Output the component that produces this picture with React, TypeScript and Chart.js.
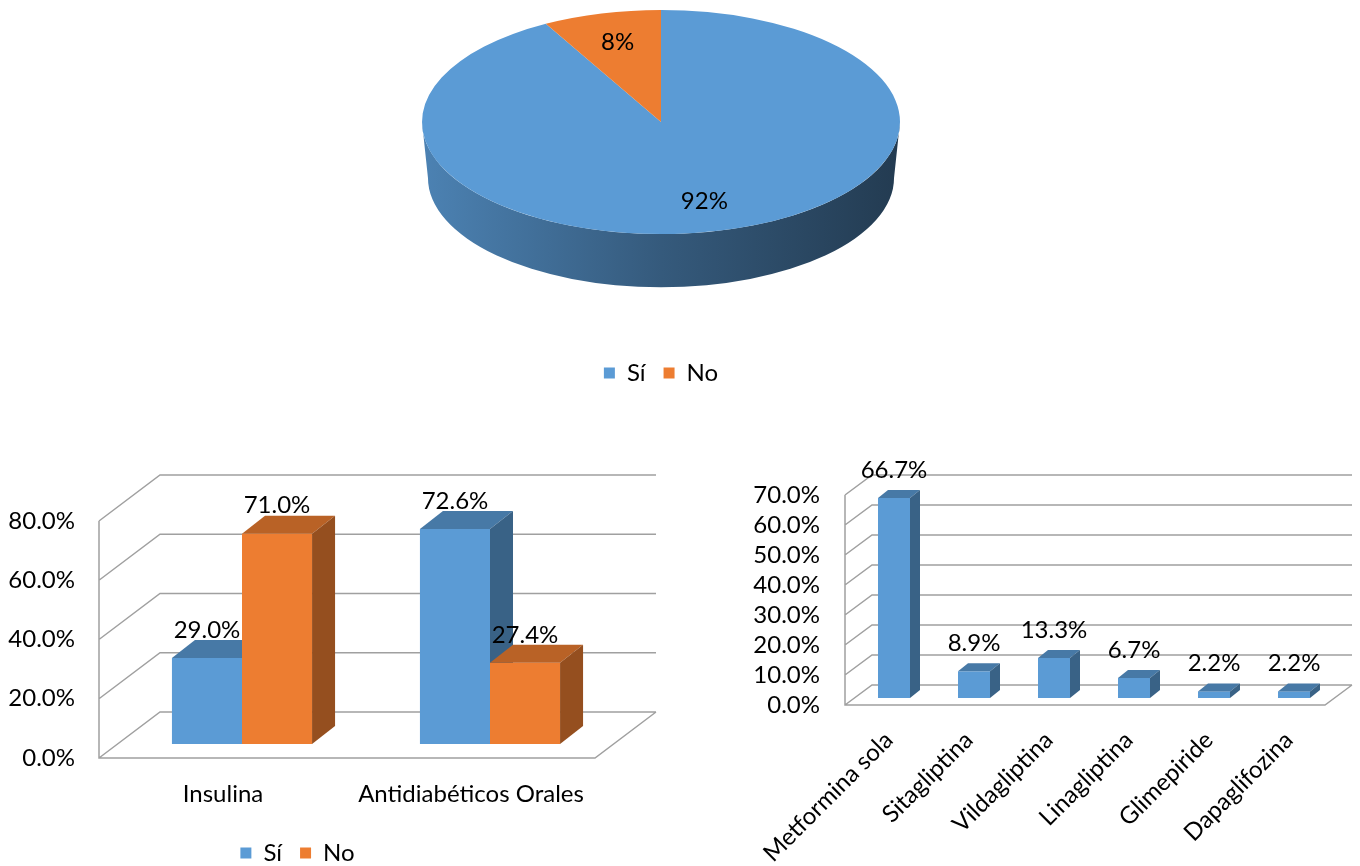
import React, { useEffect, useRef } from "react";
import { Chart, registerables } from "chart.js";

Chart.register(...registerables);

// ---------- data ----------
const pieLabels = ["Sí", "No"];
const pieValues = [92, 8];

const groupCategories = ["Insulina", "Antidiabéticos Orales"];
const seriesNames = ["Sí", "No"];
const siValues = [29.0, 72.6];
const noValues = [71.0, 27.4];
const groupAxisMax = 80;
const groupAxisStep = 20;

const drugCategories = [
  "Metformina sola",
  "Sitagliptina",
  "Vildagliptina",
  "Linagliptina",
  "Glimepiride",
  "Dapaglifozina",
];
const drugValues = [66.7, 8.9, 13.3, 6.7, 2.2, 2.2];
const drugAxisMax = 70;
const drugAxisStep = 10;

// ---------- styles ----------
const BLUE = "#5b9bd5";
const ORANGE = "#ed7d31";
const FONT = "Lato";
const FONT_SIZE = 24;
const TEXT = "#000000";
const GRID = "#a0a0a0";

Chart.defaults.font.family = FONT;

function shade(hex: string, f: number): string {
  const n = parseInt(hex.slice(1), 16);
  const r = Math.round(((n >> 16) & 255) * f);
  const g = Math.round(((n >> 8) & 255) * f);
  const b = Math.round((n & 255) * f);
  return `rgb(${r},${g},${b})`;
}

const pct1 = (v: number) => `${Number(v).toFixed(1)}%`;

// Tilted pie: squashes the library's arcs into an ellipse and adds a shaded rim.
const pie3d = {
  id: "pie3d",
  beforeDatasetsDraw(chart: any, _args: any, o: any) {
    const ctx: CanvasRenderingContext2D = chart.ctx;
    const arcs = chart.getDatasetMeta(0).data as any[];
    if (!arcs.length) return;
    const cx = arcs[0].x;
    const cy = arcs[0].y;
    const r = arcs[0].outerRadius;
    const k = o.squash;
    const topY = o.centerY;
    const colors = chart.data.datasets[0].backgroundColor as string[];

    ctx.save();
    arcs.forEach((arc: any, i: number) => {
      const g = ctx.createLinearGradient(cx - r, 0, cx + r, 0);
      g.addColorStop(0, shade(colors[i], 0.84));
      g.addColorStop(0.5, shade(colors[i], 0.58));
      g.addColorStop(1, shade(colors[i], 0.38));
      for (const s of [-2 * Math.PI, 0, 2 * Math.PI]) {
        const lo = Math.max(arc.startAngle, s);
        const hi = Math.min(arc.endAngle, s + Math.PI);
        if (hi <= lo) continue;
        const rb = r * o.bottomScale;
        ctx.beginPath();
        ctx.ellipse(cx, topY, r, r * k, 0, lo, hi);
        ctx.ellipse(cx, topY + o.depth, rb, rb * k, 0, hi, lo, true);
        ctx.closePath();
        ctx.fillStyle = g;
        ctx.fill();
      }
    });
    ctx.restore();

    ctx.save();
    ctx.translate(cx, topY);
    ctx.scale(1, k);
    ctx.translate(-cx, -cy);
  },
  afterDatasetsDraw(chart: any, _args: any, o: any) {
    const ctx: CanvasRenderingContext2D = chart.ctx;
    ctx.restore();
    const arcs = chart.getDatasetMeta(0).data as any[];
    const values = chart.data.datasets[0].data as number[];
    ctx.save();
    ctx.font = `${FONT_SIZE}px ${FONT}`;
    ctx.fillStyle = TEXT;
    ctx.textAlign = "center";
    ctx.textBaseline = "middle";
    arcs.forEach((arc: any, i: number) => {
      const mid = (arc.startAngle + arc.endAngle) / 2;
      const rr = arc.outerRadius * o.labelRadius;
      const lx = arc.x + Math.cos(mid) * rr;
      const ly = o.centerY + Math.sin(mid) * rr * o.squash;
      ctx.fillText(`${values[i]}%`, lx, ly);
    });
    ctx.restore();
  },
};

// Oblique 3D column chart: back wall / floor grid, extruded bars, value labels.
const bar3d = {
  id: "bar3d",
  beforeDatasetsDraw(chart: any, _args: any, o: any) {
    const ctx: CanvasRenderingContext2D = chart.ctx;
    const { left, right } = chart.chartArea;
    const y = chart.scales.y;
    ctx.save();
    ctx.strokeStyle = GRID;
    ctx.lineWidth = o.gridWidth;
    ctx.beginPath();
    for (const t of y.ticks) {
      const py = y.getPixelForValue(t.value);
      ctx.moveTo(left, py);
      ctx.lineTo(left + o.depthX, py + o.depthY);
      ctx.lineTo(right + o.depthX, py + o.depthY);
    }
    const y0 = y.getPixelForValue(y.min);
    const yTop = y.getPixelForValue(y.max);
    ctx.moveTo(left, yTop);
    ctx.lineTo(left, y0);
    ctx.lineTo(right, y0);
    ctx.lineTo(right + o.depthX, y0 + o.depthY);
    ctx.stroke();
    ctx.restore();
  },
  beforeDatasetDraw() {
    return false;
  },
  afterDatasetsDraw(chart: any, _args: any, o: any) {
    const ctx: CanvasRenderingContext2D = chart.ctx;
    const bars: { el: any; color: string; value: number }[] = [];
    chart.data.datasets.forEach((ds: any, di: number) => {
      if (!chart.isDatasetVisible(di)) return;
      const meta = chart.getDatasetMeta(di);
      meta.data.forEach((el: any, i: number) =>
        bars.push({ el, color: ds.backgroundColor, value: ds.data[i] })
      );
    });
    bars.sort((a, b) => a.el.x - b.el.x);

    ctx.save();
    ctx.translate(o.shiftX, o.shiftY);
    for (const { el, color } of bars) {
      el.draw(ctx);
      const L = el.x - el.width / 2;
      const R = el.x + el.width / 2;
      const T = el.y;
      const B = el.base;
      ctx.fillStyle = shade(color, 0.78);
      ctx.beginPath();
      ctx.moveTo(L, T);
      ctx.lineTo(L + o.barDX, T + o.barDY);
      ctx.lineTo(R + o.barDX, T + o.barDY);
      ctx.lineTo(R, T);
      ctx.closePath();
      ctx.fill();
      ctx.fillStyle = shade(color, 0.63);
      ctx.beginPath();
      ctx.moveTo(R, T);
      ctx.lineTo(R + o.barDX, T + o.barDY);
      ctx.lineTo(R + o.barDX, B + o.barDY);
      ctx.lineTo(R, B);
      ctx.closePath();
      ctx.fill();
    }
    ctx.font = `${FONT_SIZE}px ${FONT}`;
    ctx.fillStyle = TEXT;
    ctx.textAlign = "center";
    ctx.textBaseline = "middle";
    for (const { el, value } of bars) {
      ctx.fillText(pct1(value), el.x, el.y - o.labelGap);
    }
    ctx.restore();
  },
};

const legendLabels = {
  boxWidth: 11,
  boxHeight: 11,
  padding: 18,
  color: TEXT,
  font: { family: FONT, size: FONT_SIZE },
};

export default function App() {
  const pieRef = useRef<HTMLCanvasElement>(null);
  const groupRef = useRef<HTMLCanvasElement>(null);
  const drugRef = useRef<HTMLCanvasElement>(null);

  useEffect(() => {
    const charts: Chart[] = [];

    charts.push(
      new Chart(pieRef.current!, {
        type: "pie",
        data: {
          labels: pieLabels,
          datasets: [
            {
              data: pieValues,
              backgroundColor: [BLUE, ORANGE],
              borderWidth: 0,
              radius: 239,
              clip: false,
            } as any,
          ],
        },
        options: {
          responsive: false,
          animation: false,
          events: [],
          radius: 239,
          layout: { padding: { left: 0, right: 38, top: 0, bottom: 5 } },
          plugins: {
            legend: { position: "bottom", labels: legendLabels },
            tooltip: { enabled: false },
            pie3d: {
              centerY: 122,
              squash: 0.469,
              depth: 56,
              bottomScale: 0.975,
              labelRadius: 0.73,
            },
          } as any,
        } as any,
        plugins: [pie3d],
      })
    );

    const axisFont = { family: FONT, size: FONT_SIZE };

    charts.push(
      new Chart(groupRef.current!, {
        type: "bar",
        data: {
          labels: groupCategories,
          datasets: [
            { label: seriesNames[0], data: siValues, backgroundColor: BLUE, borderWidth: 0 },
            { label: seriesNames[1], data: noValues, backgroundColor: ORANGE, borderWidth: 0 },
          ],
        },
        options: {
          responsive: false,
          animation: false,
          events: [],
          layout: { padding: { left: 0, right: 85, top: 81, bottom: 5 } },
          datasets: { bar: { categoryPercentage: 0.565, barPercentage: 1 } },
          scales: {
            x: {
              grid: { display: false, drawTicks: false },
              border: { display: false },
              ticks: { font: axisFont, color: TEXT, padding: 22, maxRotation: 0, autoSkip: false },
              afterFit: (s: any) => {
                s.height = 65;
              },
            },
            y: {
              min: 0,
              max: groupAxisMax,
              grid: { display: false, drawTicks: false },
              border: { display: false },
              ticks: {
                stepSize: groupAxisStep,
                autoSkip: false,
                font: axisFont,
                color: TEXT,
                padding: 24,
                callback: (v: any) => pct1(v),
              },
              afterFit: (s: any) => {
                s.width = 99;
              },
            },
          },
          plugins: {
            legend: { position: "bottom", labels: legendLabels },
            tooltip: { enabled: false },
            bar3d: {
              gridWidth: 1.5,
              depthX: 61,
              depthY: -46,
              shiftX: 19,
              shiftY: -14,
              barDX: 23,
              barDY: -18,
              labelGap: 28,
            },
          } as any,
        } as any,
        plugins: [bar3d],
      })
    );

    charts.push(
      new Chart(drugRef.current!, {
        type: "bar",
        data: {
          labels: drugCategories,
          datasets: [{ label: "Porcentaje", data: drugValues, backgroundColor: BLUE, borderWidth: 0 }],
        },
        options: {
          responsive: false,
          animation: false,
          events: [],
          layout: { padding: { left: 0, right: 35, top: 55, bottom: 0 } },
          datasets: { bar: { categoryPercentage: 0.4, barPercentage: 1 } },
          scales: {
            x: {
              grid: { display: false, drawTicks: false },
              border: { display: false },
              ticks: {
                font: axisFont,
                color: TEXT,
                padding: 21,
                minRotation: 45,
                maxRotation: 45,
                autoSkip: false,
                labelOffset: 4,
              },
              afterFit: (s: any) => {
                s.height = 161;
              },
            },
            y: {
              min: 0,
              max: drugAxisMax,
              grid: { display: false, drawTicks: false },
              border: { display: false },
              ticks: {
                stepSize: drugAxisStep,
                autoSkip: false,
                font: axisFont,
                color: TEXT,
                padding: 25,
                callback: (v: any) => pct1(v),
              },
              afterFit: (s: any) => {
                s.width = 165;
              },
            },
          },
          plugins: {
            legend: { display: false },
            tooltip: { enabled: false },
            bar3d: {
              gridWidth: 1.5,
              depthX: 27,
              depthY: -20,
              shiftX: 9,
              shiftY: -7,
              barDX: 10,
              barDY: -8,
              labelGap: 28,
            },
          } as any,
        } as any,
        plugins: [bar3d],
      })
    );

    return () => charts.forEach((c) => c.destroy());
  }, []);

  return (
    <div
      style={{
        position: "fixed",
        left: 0,
        top: 0,
        width: 1360,
        height: 866,
        overflow: "hidden",
        background: "#ffffff",
      }}
    >
      <canvas ref={pieRef} width={1360} height={400} style={{ position: "absolute", left: 0, top: 0 }} />
      <canvas ref={groupRef} width={680} height={440} style={{ position: "absolute", left: 0, top: 440 }} />
      <canvas ref={drugRef} width={680} height={426} style={{ position: "absolute", left: 680, top: 440 }} />
    </div>
  );
}
